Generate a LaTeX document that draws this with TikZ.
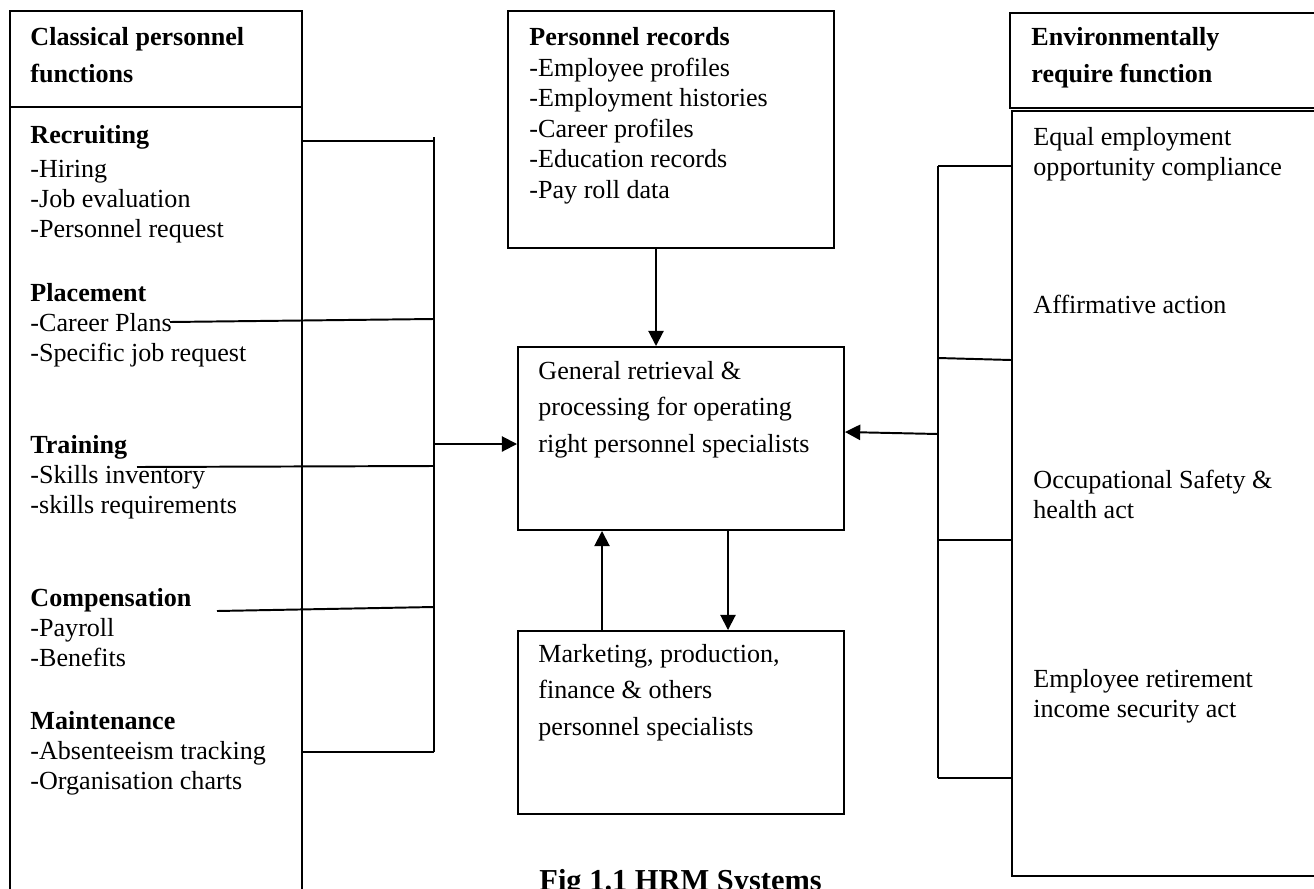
\documentclass[tikz,border=0pt]{standalone}
\usepackage{fontspec}
\setmainfont{Liberation Serif}
\usetikzlibrary{arrows.meta}
\usetikzlibrary{fit}

\tikzset{
  box/.style={draw, line width=0.9pt, inner sep=0pt},
  txt/.style={anchor=base west, align=left, inner sep=0pt, font=\fontsize{12}{13.8}\selectfont},
  wide/.style={txt, font=\fontsize{12}{16.6}\selectfont},
  link/.style={line width=0.9pt},
  arr/.style={line width=0.9pt, -{Triangle[length=7pt,width=7pt]}},
}

\begin{document}
\begin{tikzpicture}[x=0.46pt,y=0.46pt,yscale=-1,xscale=1]
\useasboundingbox (0,0) rectangle (1314,888);
\clip (0,0) rectangle (1314,888);

%Shape: Rectangle
\node [box, fit={(10,11) (302,107)}] (clsHead) {};
%Shape: Rectangle
\node [box, fit={(10,107) (302,900)}] (clsBody) {};
%Shape: Rectangle
\node [box, fit={(508,11) (834,248)}] (recBox) {};
%Shape: Rectangle
\node [box, fit={(518,347) (844,530)}] (genBox) {};
%Shape: Rectangle
\node [box, fit={(518,631) (844,814)}] (mktBox) {};
%Shape: Rectangle
\node [box, fit={(1010,13) (1330,108)}] (envHead) {};
%Shape: Rectangle
\node [box, fit={(1012,111) (1330,876)}] (envBody) {};

%Bracket points
\coordinate (lbTop) at (434,137);
\coordinate (lb1) at (434,141);
\coordinate (cp) at (170,322);
\coordinate (lb2) at (434,319);
\coordinate (tr) at (137,467);
\coordinate (lb3) at (434,466);
\coordinate (cm) at (217,611);
\coordinate (lb4) at (434,607);
\coordinate (lb5) at (434,752);
\coordinate (lbArr) at (434,444);
\coordinate (rbTop) at (938,166);
\coordinate (rb2) at (938,358);
\coordinate (rbArr) at (938,434);
\coordinate (rb3) at (938,540);
\coordinate (rbBot) at (938,778);

%Straight Lines
\draw [link] (lbTop) -- (lb5) ;
\draw [link] (clsBody.east |- lb1) -- (lb1) ;
\draw [link] (cp) -- (lb2) ;
\draw [link] (tr) -- (lb3) ;
\draw [link] (cm) -- (lb4) ;
\draw [link] (clsBody.east |- lb5) -- (lb5) ;
\draw [arr] (lbArr) -- (genBox.west |- lbArr) ;
%Straight Lines
\draw [link] (rbTop) -- (rbBot) ;
\draw [link] (rbTop) -- (envBody.west |- rbTop) ;
\draw [link] (rb2) -- (envBody.west |- 0,360) ;
\draw [link] (rb3) -- (envBody.west |- rb3) ;
\draw [link] (rbBot) -- (envBody.west |- rbBot) ;
\draw [arr] (rbArr) -- (genBox.east |- 0,432) ;
%Straight Lines
\draw [arr] (recBox.south -| 656,0) -- (genBox.north -| 656,0) ;
\draw [arr] (mktBox.north -| 602,0) -- (genBox.south -| 602,0) ;
\draw [arr] (genBox.south -| 728,0) -- (mktBox.north -| 728,0) ;

% Text Node (anchored at the baseline of the last line)
\node [wide] (clsTitle) at (30,82) {\textbf{Classical personnel}\\\textbf{functions}};
% Text Node
\node [txt] (recruit) at (30,237) {\textbf{Recruiting}\\[1.8pt]-Hiring\\-Job evaluation\\-Personnel request};
% Text Node
\node [txt] (placement) at (30,361) {\textbf{Placement}\\-Career Plans\\-Specific job request};
% Text Node
\node [txt] (training) at (30,513) {\textbf{Training}\\-Skills inventory\\-skills requirements};
% Text Node
\node [txt] (compensation) at (30,666) {\textbf{Compensation}\\-Payroll\\-Benefits};
% Text Node
\node [txt] (maintenance) at (30,789) {\textbf{Maintenance}\\-Absenteeism tracking\\-Organisation charts};
% Text Node
\node [txt, font=\fontsize{12}{14}\selectfont] (recText) at (529,198) {\textbf{Personnel records}\\-Employee profiles\\-Employment histories\\-Career profiles\\-Education records\\-Pay roll data};
% Text Node
\node [wide] (genText) at (538,452) {General retrieval \&\\processing for operating\\right personnel specialists};
% Text Node
\node [wide] (mktText) at (538,735) {Marketing, production,\\finance \& others\\personnel specialists};
% Text Node
\node [wide] (envTitle) at (1031,82) {\textbf{Environmentally}\\\textbf{require function}};
% Text Node
\node [txt] (equal) at (1033,175) {Equal employment\\opportunity compliance};
% Text Node
\node [txt] (affirm) at (1033,313) {Affirmative action};
% Text Node
\node [txt] (osha) at (1033,518) {Occupational Safety \&\\health act};
% Text Node
\node [txt] (erisa) at (1033,717) {Employee retirement\\income security act};
% Text Node
\node [txt, font=\fontsize{14}{16}\selectfont\bfseries] (caption) at (539,890) {Fig 1.1 HRM Systems};

\end{tikzpicture}
\end{document}
